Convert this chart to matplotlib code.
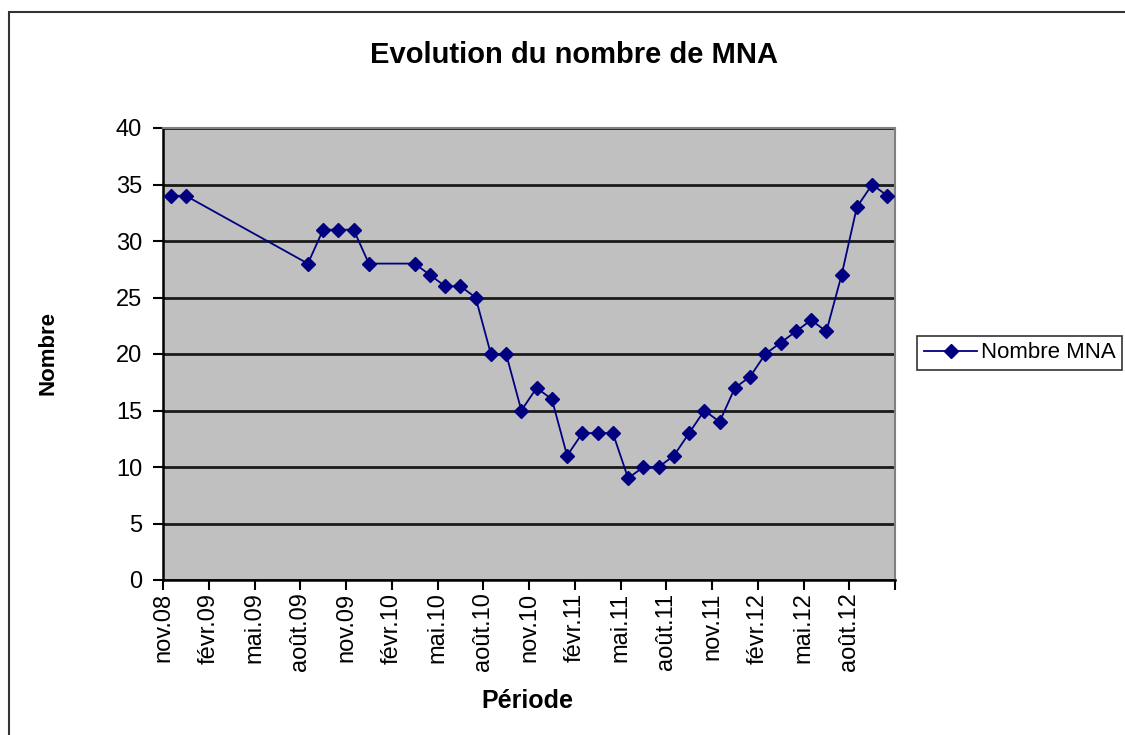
import matplotlib
matplotlib.use('Agg')
import matplotlib.pyplot as plt
from matplotlib.patches import Rectangle

plt.rcParams['font.family'] = ['Liberation Sans', 'DejaVu Sans']

# monthly counts (missing months simply not reported)
months = ['2008-11', '2008-12', '2009-08', '2009-09', '2009-10', '2009-11', '2009-12',
          '2010-03', '2010-04', '2010-05', '2010-06', '2010-07', '2010-08', '2010-09',
          '2010-10', '2010-11', '2010-12', '2011-01', '2011-02', '2011-03', '2011-04',
          '2011-05', '2011-06', '2011-07', '2011-08', '2011-09', '2011-10', '2011-11',
          '2011-12', '2012-01', '2012-02', '2012-03', '2012-04', '2012-05', '2012-06',
          '2012-07', '2012-08', '2012-09', '2012-10']
nombre_mna = [34, 34, 28, 31, 31, 31, 28,
              28, 27, 26, 26, 25, 20, 20,
              15, 17, 16, 11, 13, 13, 13,
              9, 10, 10, 11, 13, 15, 14,
              17, 18, 20, 21, 22, 23, 22,
              27, 33, 35, 34]
tick_labels = ['nov.08', 'févr.09', 'mai.09', 'août.09', 'nov.09', 'févr.10', 'mai.10',
               'août.10', 'nov.10', 'févr.11', 'mai.11', 'août.11', 'nov.11', 'févr.12',
               'mai.12', 'août.12', '']


def month_index(m, start='2008-11'):
    y0, m0 = map(int, start.split('-'))
    y, mm = map(int, m.split('-'))
    return (y - y0) * 12 + (mm - m0)


x = [month_index(m) + 0.5 for m in months]

fig = plt.figure(figsize=(11.25, 7.35), dpi=100)
ax = fig.add_axes([163 / 1125, 1 - 580 / 735, 732 / 1125, 452 / 735])

# outer chart border (cut off on the right and bottom)
fig.patches.append(Rectangle((9 / 1125, -0.05), 1.2, 1 - 12 / 735 + 0.05, transform=fig.transFigure,
                             fill=False, edgecolor='#333333', lw=1.5))

ax.set_facecolor('#C0C0C0')
ax.plot(x, nombre_mna, color='#000080', lw=1.3, marker='D', markersize=7,
        markerfacecolor='#000080', markeredgecolor='#000080', label='Nombre MNA', zorder=3)

ax.set_xlim(0, 48)
ax.set_ylim(0, 40)
ax.set_yticks(range(0, 41, 5))
ax.set_xticks(range(0, 49, 3))
ax.set_xticklabels(tick_labels, rotation=90)
ax.grid(axis='y', color='#1a1a1a', lw=2)
ax.set_axisbelow(True)
ax.tick_params(axis='both', direction='out', length=7, width=1.5, labelsize=17, color='black')
ax.tick_params(axis='x', pad=2)
ax.tick_params(axis='y', pad=8)

for s in ['left', 'bottom']:
    ax.spines[s].set_color('black')
    ax.spines[s].set_linewidth(1.8)
for s in ['top', 'right']:
    ax.spines[s].set_color('#808080')
    ax.spines[s].set_linewidth(1.5)

fig.text(574 / 1125, 1 - 55 / 735, 'Evolution du nombre de MNA', ha='center', va='center',
         fontsize=21, fontweight='bold')
fig.text(48 / 1125, 1 - 353 / 735, 'Nombre', ha='center', va='center', rotation=90,
         fontsize=16, fontweight='bold')
fig.text(527 / 1125, 1 - 701 / 735, 'Période', ha='center', va='center',
         fontsize=18, fontweight='bold')

leg = fig.legend(loc='center left', bbox_to_anchor=(913 / 1125, 1 - 353 / 735), fontsize=16,
                 frameon=True, fancybox=False, handlelength=2.4, borderpad=0.3,
                 borderaxespad=0.2, handletextpad=0.15)
leg.get_frame().set_edgecolor('black')
leg.get_frame().set_linewidth(1.2)

fig.savefig('out.png', dpi=100, facecolor='white')
